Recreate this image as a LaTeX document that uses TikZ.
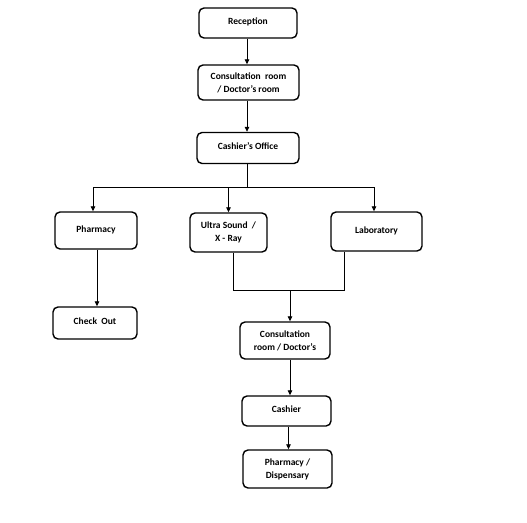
\documentclass[tikz,border=0pt]{standalone}
\usepackage{fontspec}
\setmainfont{Carlito}
\usetikzlibrary{arrows.meta}
\newcommand\upt[1]{\raisebox{3pt}{#1}}
\begin{document}
\begin{tikzpicture}[x=1pt,y=-1pt,
  box/.style={draw=black,line width=1.4pt,rounded corners=5pt,align=center,
    font=\fontsize{9.5}{13}\selectfont\bfseries,inner sep=0pt},
  conn/.style={draw=black,line width=0.8pt},
  arr/.style={conn,-{Triangle[length=5pt,width=4.5pt]}}]
\useasboundingbox (0,0) rectangle (527,522);
\fill[white] (0,0) rectangle (527,522);
\node[box,minimum width=98pt,minimum height=30pt] (rec) at (248,23) {\upt{Reception}};
\node[box,minimum width=101pt,minimum height=35pt] (cons) at (248.5,82.5) {Consultation\ \ room\\ / Doctor's room};
\node[box,minimum width=102pt,minimum height=31pt] (cash) at (248,148) {\upt{Cashier's Office}};
\node[box,minimum width=82pt,minimum height=37pt] (pharm) at (96,230.5) {\upt{Pharmacy}};
\node[box,minimum width=77pt,minimum height=39pt] (us) at (228.5,232.5) {Ultra Sound\ \ /\\ X - Ray};
\node[box,minimum width=91pt,minimum height=39pt] (lab) at (376.5,231.5) {\upt{Laboratory}};
\node[box,minimum width=84pt,minimum height=32pt] (co) at (95,323) {\upt{Check\ \ Out}};
\node[box,minimum width=90pt,minimum height=37pt] (cons2) at (285,340.5) {Consultation\\ room / Doctor's};
\node[box,minimum width=89pt,minimum height=30pt] (cash2) at (286.5,411) {\upt{Cashier}};
\node[box,minimum width=89pt,minimum height=38pt] (ph2) at (287.5,469) {Pharmacy /\\ Dispensary};
\coordinate (split) at (247,187);
\coordinate (join) at (290,290);
\draw[arr] (rec.south -| 247,0) -- (cons.north -| 247,0);
\draw[arr] (cons.south -| 247,0) -- (cash.north -| 247,0);
\draw[conn] (cash.south -| split) -- (split);
\draw[arr] (split) -| ([xshift=-3pt]pharm.north);
\draw[arr] (split) -| ([xshift=-2.5pt]lab.north);
\draw[arr] (us.north |- split) -- (us.north);
\draw[arr] ([xshift=1pt]pharm.south) -- ([xshift=2pt]co.north);
\draw[conn] ([xshift=4.5pt]us.south) |- ([xshift=-32.5pt]lab.south |- join) -- ([xshift=-32.5pt]lab.south);
\draw[arr] (join) -- (join |- cons2.north);
\draw[arr] (join |- cons2.south) -- (join |- cash2.north);
\draw[arr] ([xshift=2pt]cash2.south) -- ([xshift=1pt]ph2.north);
\end{tikzpicture}
\end{document}
